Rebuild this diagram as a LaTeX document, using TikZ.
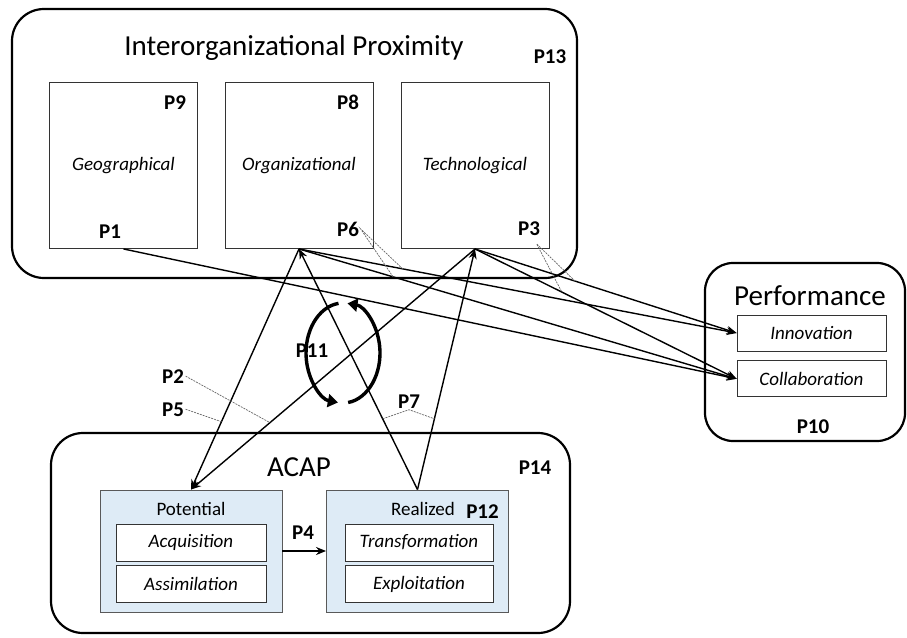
\documentclass[tikz,border=0pt]{standalone}
\usepackage{fontspec}
\setmainfont{Carlito}
\usetikzlibrary{arrows.meta,positioning,calc}
\definecolor{acapblue}{RGB}{222,235,246}

\begin{document}
\begin{tikzpicture}[
    x=1pt, y=-1pt,
    grpbox/.style={rectangle, draw, line width=2.2pt, rounded corners=32pt},
    dimbox/.style={rectangle, draw=black!80, line width=0.9pt, minimum width=148pt, minimum height=166pt, font=\itshape\fontsize{19}{21}\selectfont},
    stagebox/.style={rectangle, draw=black!65, line width=0.9pt, fill=acapblue, minimum width=182pt, minimum height=122pt},
    itembox/.style={rectangle, draw=black!80, line width=0.8pt, fill=white, minimum width=150pt, minimum height=37pt, inner sep=0pt, font=\itshape\fontsize{19}{21}\selectfont},
    headtxt/.style={anchor=base, font=\fontsize{29}{31}\selectfont},
    subtxt/.style={anchor=base, font=\fontsize{19}{21}\selectfont},
    plabel/.style={anchor=base, inner sep=1.5pt, font=\bfseries\fontsize{21}{23}\selectfont},
    flow/.style={-{Stealth[length=10pt,width=8pt]}, line width=1.4pt},
    leader/.style={draw=black!60, line width=0.7pt, dash pattern=on 2pt off 1pt},
    cyclearc/.style={line width=3.4pt, -{Triangle[length=10pt,width=13pt]}}
]
    \useasboundingbox (0,0) rectangle (907,637);

    \node[grpbox, minimum width=565pt, minimum height=269pt] (proxim) at (294.5,143.5) {};
    \node[headtxt] (proxtitle) at (294,55) {Interorganizational Proximity};
    \node[plabel] (p13) at (550,63) {P13};
    \node[dimbox] (geo) at (123.5,165.5) {Geographical};
    \node[dimbox] (org) at (299,165.5) {Organizational};
    \node[dimbox] (tech) at (475,165.5) {Technological};
    \node[plabel] (p9) at (175,109) {P9};
    \node[plabel] (p8) at (348,109) {P8};
    \node[plabel] (p1) at (110,238) {P1};
    \node[plabel] (p6) at (348,236) {P6};
    \node[plabel] (p3) at (529,235) {P3};

    \node[grpbox, rounded corners=28pt, minimum width=200pt, minimum height=178pt] (perf) at (805,352) {};
    \node[headtxt] (perftitle) at (810,305) {Performance};
    \node[itembox, minimum width=149pt, minimum height=36pt] (inno) at (811.5,333) {Innovation};
    \node[itembox, minimum width=149pt, minimum height=36pt, below=9pt of inno] (collab) {Collaboration};
    \node[plabel] (p10) at (813,433) {P10};

    \node[grpbox, minimum width=519pt, minimum height=200pt] (acap) at (310.5,533) {};
    \node[headtxt] (acaptitle) at (299,476) {ACAP};
    \node[plabel] (p14) at (535,474) {P14};
    \node[stagebox] (pot) at (191,551) {};
    \node[stagebox] (real) at (417.5,551) {};
    \node[subtxt] (potlabel) at (191,515) {Potential};
    \node[subtxt] (reallabel) at (423,515) {Realized};
    \node[plabel] (p12) at (482.5,518) {P12};
    \node[itembox] (acq) at (191,542.5) {Acquisition};
    \node[itembox, below=4pt of acq] (assim) {Assimilation};
    \node[itembox, minimum width=148pt] (trans) at (419,542.5) {Transformation};
    \node[itembox, minimum width=148pt, below=4pt of trans] (exploit) {Exploitation};
    \node[plabel] (p4) at (303,539) {P4};

    \node[plabel] (p2) at (173,383) {P2};
    \node[plabel] (p5) at (173,416) {P5};
    \node[plabel] (p7) at (409,408) {P7};
    \node[plabel] (p11) at (312,357) {P11};

    \draw[flow] (geo.south) -- (collab.west);
    \draw[flow] (org.south) -- coordinate[pos=0.237] (oinno) (inno.west);
    \draw[flow] (org.south) -- coordinate[pos=0.215] (ocoll) (collab.west);
    \draw[flow] (tech.south) -- coordinate[pos=0.382] (tinno) (inno.west);
    \draw[flow] (tech.south) -- coordinate[pos=0.332] (tcoll) (collab.west);
    \draw[flow] (org.south) -- coordinate[pos=0.718] (opot) (pot.north);
    \draw[flow] (tech.south) -- coordinate[pos=0.722] (tpot) (pot.north);
    \draw[flow] (real.north) -- coordinate[pos=0.294] (rorg) (org.south);
    \draw[flow] (real.north) -- coordinate[pos=0.294] (rtech) (tech.south);
    \draw[flow, line width=2.4pt] (pot.east) -- (real.west);

    \draw[leader] (oinno) -- (p6.east) -- (ocoll);
    \draw[leader] (tinno) -- ([xshift=-5pt,yshift=-7pt]p3.south east) -- (tcoll);
    \draw[leader] (p2.east) -- (tpot);
    \draw[leader] (p5.east) -- (opot);
    \draw[leader] (rorg) -- (p7.south) -- (rtech);

    \coordinate (cyc) at (343,353);
    \draw[cyclearc] (cyc) ++(-97:37 and 50) arc[start angle=-97, end angle=-262, x radius=37, y radius=50];
    \draw[cyclearc] (cyc) ++(-278:37 and 50) arc[start angle=-278, end angle=-443, x radius=37, y radius=50];
\end{tikzpicture}
\end{document}
